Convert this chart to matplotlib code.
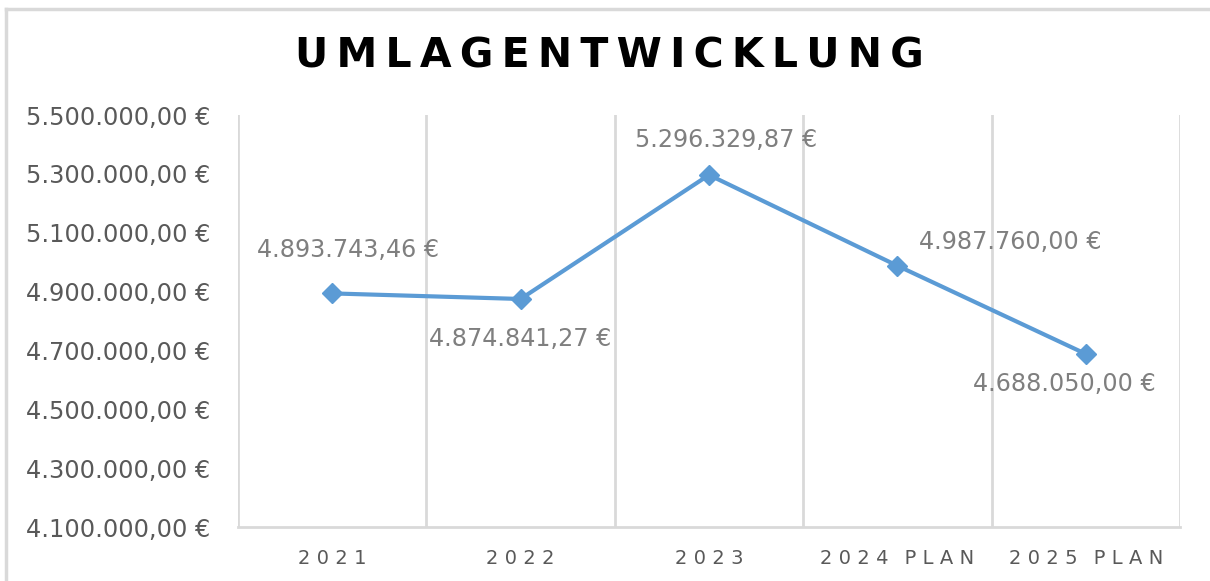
import matplotlib.pyplot as plt
from matplotlib.lines import Line2D
from matplotlib.ticker import FuncFormatter

# Daten
jahre = ['2021', '2022', '2023', '2024 PLAN', '2025 PLAN']
umlagen = [4893743.46, 4874841.27, 5296329.87, 4987760.00, 4688050.00]
# Offsets der Beschriftungen (Pixel) wie im Original
label_offsets = [(16, 43), (0, -40), (17, 35), (113, 24), (-21, -30)]

BLUE = '#5b9bd5'
GRID = '#d9d9d9'
TICK = '#595959'
LABEL = '#7f7f7f'


def euro(v):
    s = f"{v:,.2f}".replace(',', 'X').replace('.', ',').replace('X', '.')
    return s + ' €'


def spaced(text, gap='\u2004', word_gap='\u2002\u2004'):
    words = text.split(' ')
    return word_gap.join(gap.join(list(w)) for w in words)


fig = plt.figure(figsize=(12.1, 5.81), dpi=100)
fig.patch.set_facecolor('white')

# Rahmen um das Diagramm (nur oben und links sichtbar)
fx, fy = 6 / 1210, 1 - 9 / 581
fig.lines.append(Line2D([fx, 1.0], [fy, fy], transform=fig.transFigure,
                        color=GRID, linewidth=2.5))
fig.lines.append(Line2D([fx, fx], [0.0, fy], transform=fig.transFigure,
                        color=GRID, linewidth=2.5))

ax = fig.add_axes([238 / 1210, (581 - 527) / 581, (1180 - 238) / 1210, (527 - 115) / 581])
x = list(range(len(jahre)))

ax.plot(x, umlagen, color=BLUE, linewidth=3, marker='D', markersize=10,
        markerfacecolor=BLUE, markeredgecolor=BLUE, zorder=3, clip_on=False)

for xi, v, (dx, dy) in zip(x, umlagen, label_offsets):
    ax.annotate(euro(v), (xi, v), xytext=(dx, dy), textcoords='offset pixels',
                ha='center', va='center', fontsize=17.2, color=LABEL)

ax.set_xlim(-0.5, len(jahre) - 0.5)
ax.set_ylim(4100000, 5500000)
ax.set_yticks(range(4100000, 5500001, 200000))
ax.yaxis.set_major_formatter(FuncFormatter(lambda v, p: euro(v)))
ax.tick_params(axis='y', length=0, pad=20, labelsize=17.3, labelcolor=TICK)

ax.set_xticks(x)
ax.set_xticklabels([spaced(j) for j in jahre])
ax.tick_params(axis='x', length=0, pad=16, labelsize=14, labelcolor=TICK)

# vertikale Gitterlinien zwischen den Kategorien
for b in [i - 0.5 for i in range(len(jahre) + 1)]:
    ax.axvline(b, color=GRID, linewidth=2, zorder=1)

for s in ['top', 'left', 'right']:
    ax.spines[s].set_visible(False)
ax.spines['bottom'].set_color(GRID)
ax.spines['bottom'].set_linewidth(2)

fig.text(609 / 1210, 1 - 57 / 581, '\u2009'.join('UMLAGENTWICKLUNG'),
         ha='center', va='center', fontsize=29.5, fontweight='bold', color='black')

fig.savefig('out.png', dpi=100)
